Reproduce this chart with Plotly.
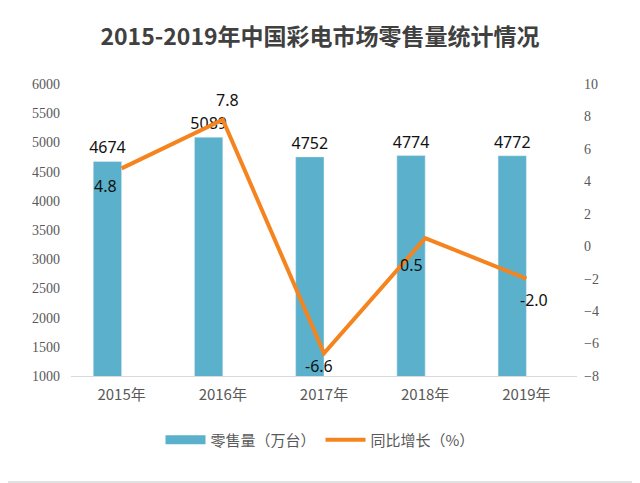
import plotly.graph_objects as go

# === DATA ===
years = ["2015年", "2016年", "2017年", "2018年", "2019年"]
sales = [4674, 5089, 4752, 4774, 4772]          # 零售量（万台）
growth = [4.8, 7.8, -6.6, 0.5, -2.0]            # 同比增长（%）

# label nudges for the growth values (px)
label_dx = [-16, 5, -5, -14, 8]
label_dy = [-18, 20, -13, -27, -21]

# === LAYOUT (px) ===
# the page has an 8px body margin, so the figure is sized to sit inside the window
W, H = 632, 475
L, R, T, B = 63, 63, 76, 107
pw, ph = W - L - R, H - T - B

cjk = "Noto Sans CJK SC"
grey = "#595959"
blue = "#5BB1CB"
orange = "#F5841F"

fig = go.Figure()

fig.add_trace(go.Bar(
    x=years, y=sales, name="零售量（万台）", showlegend=False,
    marker_color=blue, width=0.28, offset=-0.28,
    text=[str(v) for v in sales], textposition="outside",
    constraintext="none",
    textfont=dict(family="Noto Sans", size=16, color="#111111"),
    cliponaxis=False,
))

# legend swatch for the bars: wide flat rectangle like the original
fig.add_trace(go.Scatter(
    x=[None], y=[None], name="零售量（万台）", mode="lines",
    line=dict(color=blue, width=9),
))

fig.add_trace(go.Scatter(
    x=years, y=growth, name="同比增长（%）", yaxis="y2",
    mode="lines", line=dict(color=orange, width=4),
))

for yr, g, dx, dy in zip(years, growth, label_dx, label_dy):
    fig.add_annotation(x=yr, y=g, yref="y2", text=f"{g:.1f}", showarrow=False,
                       xshift=dx, yshift=dy,
                       font=dict(family="Noto Sans", size=16, color="#111111"))

fig.update_layout(
    width=W, height=H,
    margin=dict(l=L, r=R, t=T, b=B, autoexpand=False),
    paper_bgcolor="white", plot_bgcolor="white",
    title=dict(text="<b>2015-2019年中国彩电市场零售量统计情况</b>",
               x=(320 - 8) / W, xanchor="center", y=1 - 29 / H, yanchor="middle",
               font=dict(family=cjk, size=23, color="#404040")),
    xaxis=dict(range=[-0.5, 4.5], showgrid=False, showline=True,
               linecolor="#d9d9d9", linewidth=1, ticks="", ticklabelstandoff=5,
               tickfont=dict(family=cjk, size=15, color=grey)),
    yaxis=dict(range=[1000, 6000], dtick=500, showgrid=False, zeroline=False,
               showline=False, ticks="", ticklabelstandoff=10,
               tickfont=dict(family="Liberation Serif", size=14, color=grey)),
    yaxis2=dict(range=[-8, 10], dtick=2, overlaying="y", side="right",
                showgrid=False, zeroline=False, showline=False, ticks="",
                ticklabelstandoff=6,
                tickfont=dict(family="Liberation Serif", size=14, color=grey)),
    legend=dict(orientation="h", x=(320 - 8 - L) / pw, xanchor="center",
                y=-(432 - T - ph) / ph, yanchor="middle",
                font=dict(family=cjk, size=15, color=grey),
                itemwidth=40, traceorder="normal"),
    showlegend=True,
)

# light frame around the picture
fig.add_shape(type="rect", xref="paper", yref="paper",
              x0=-(L + 8) / pw, x1=1 + (R - 1) / pw,
              y0=-(B - 1) / ph, y1=1 + (T + 8) / ph,
              line=dict(color="#d9d9d9", width=1.5), layer="below")

fig.write_html("out.html")
